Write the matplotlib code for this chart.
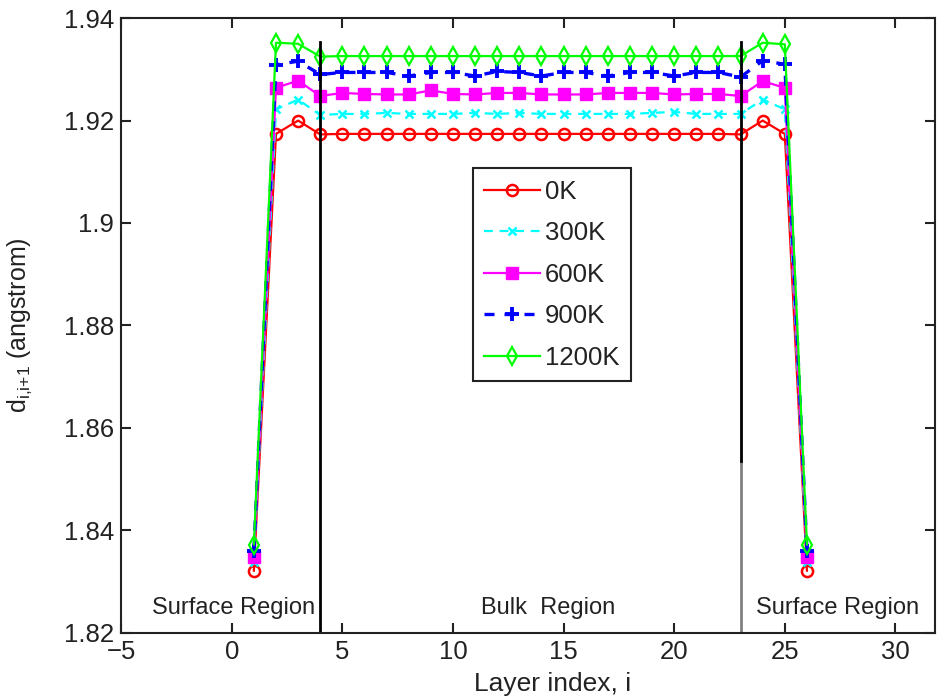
import matplotlib
matplotlib.use("Agg")
import matplotlib.pyplot as plt

plt.rcParams['font.family'] = ['Liberation Sans', 'DejaVu Sans']
plt.rcParams['mathtext.fontset'] = 'custom'
plt.rcParams['mathtext.rm'] = 'Liberation Sans'
plt.rcParams['mathtext.it'] = 'Liberation Sans'

layers = list(range(1, 27))

d_0K = [1.8321, 1.9174, 1.9200, 1.9173, 1.9174, 1.9174, 1.9174, 1.9174, 1.9174, 1.9174,
        1.9174, 1.9174, 1.9174, 1.9174, 1.9174, 1.9174, 1.9174, 1.9174, 1.9174, 1.9174,
        1.9174, 1.9174, 1.9173, 1.9200, 1.9174, 1.8321]
d_300K = [1.8338, 1.9222, 1.9241, 1.9211, 1.9213, 1.9213, 1.9215, 1.9213, 1.9213, 1.9213,
          1.9215, 1.9213, 1.9215, 1.9213, 1.9213, 1.9213, 1.9213, 1.9213, 1.9215, 1.9217,
          1.9213, 1.9213, 1.9213, 1.9241, 1.9222, 1.8338]
d_600K = [1.8348, 1.9264, 1.9278, 1.9248, 1.9254, 1.9252, 1.9251, 1.9251, 1.9259, 1.9252,
          1.9251, 1.9254, 1.9254, 1.9251, 1.9251, 1.9251, 1.9254, 1.9254, 1.9254, 1.9251,
          1.9252, 1.9252, 1.9248, 1.9277, 1.9264, 1.8348]
d_900K = [1.8360, 1.9309, 1.9316, 1.9290, 1.9294, 1.9294, 1.9294, 1.9287, 1.9294, 1.9294,
          1.9287, 1.9296, 1.9294, 1.9287, 1.9294, 1.9294, 1.9287, 1.9294, 1.9294, 1.9287,
          1.9294, 1.9294, 1.9285, 1.9317, 1.9310, 1.8360]
d_1200K = [1.8372, 1.9352, 1.9350, 1.9325, 1.9326, 1.9326, 1.9326, 1.9326, 1.9326, 1.9326,
           1.9326, 1.9326, 1.9326, 1.9326, 1.9326, 1.9326, 1.9326, 1.9326, 1.9326, 1.9326,
           1.9326, 1.9326, 1.9326, 1.9352, 1.9349, 1.8372]

series_labels = ['0K', '300K', '600K', '900K', '1200K']
boundaries = [4, 23]
region_labels = ['Surface Region', 'Bulk  Region', 'Surface Region']
region_x = [0.1, 14.3, 27.4]

RED, CYAN, MAG, BLUE, GREEN = '#ff0000', '#00ffff', '#ff00ff', '#0000ff', '#00ff00'

fig = plt.figure(figsize=(9.39, 6.99), dpi=100)
ax = fig.add_axes([0.129, 0.095, 0.867, 0.879])

lw = 1.6
ax.plot(layers, d_0K, color=RED, linestyle='-', marker='o', markersize=8,
        markerfacecolor='none', markeredgewidth=1.8, linewidth=lw, label=series_labels[0])
ax.plot(layers, d_300K, color=CYAN, linestyle='--', marker='x', markersize=6,
        markeredgewidth=1.8, linewidth=lw, dashes=(4, 3), label=series_labels[1])
ax.plot(layers, d_600K, color=MAG, linestyle='-', marker='s', markersize=8,
        markerfacecolor=MAG, markeredgewidth=1.0, linewidth=lw, label=series_labels[2])
ax.plot(layers, d_900K, color=BLUE, linestyle='--', marker='+', markersize=10,
        markeredgewidth=2.8, linewidth=2.4, dashes=(3, 3), label=series_labels[3])
ax.plot(layers, d_1200K, color=GREEN, linestyle='-', marker='d', markersize=9,
        markerfacecolor='none', markeredgewidth=1.6, linewidth=lw, label=series_labels[4])

ax.plot([boundaries[0], boundaries[0]], [1.82, 1.9353], color='black', linewidth=2)
ax.plot([boundaries[1], boundaries[1]], [1.82, 1.8535], color='#808080', linewidth=2)
ax.plot([boundaries[1], boundaries[1]], [1.8535, 1.9353], color='black', linewidth=2)

for xr, t in zip(region_x, region_labels):
    ax.text(xr, 1.8249, t, ha='center', va='center', fontsize=17, color='#222222')

ax.set_xlim(-5, 31.8)
ax.set_ylim(1.82, 1.94)
ax.set_xticks([-5, 0, 5, 10, 15, 20, 25, 30])
ax.set_xticklabels(['\u22125', '0', '5', '10', '15', '20', '25', '30'])
ax.set_yticks([1.82, 1.84, 1.86, 1.88, 1.90, 1.92, 1.94])
ax.set_yticklabels(['1.82', '1.84', '1.86', '1.88', '1.9', '1.92', '1.94'])
ax.tick_params(axis='both', direction='in', labelsize=18.5, length=7, width=1.5,
               top=True, right=True, pad=5, colors='#222222')
for s in ax.spines.values():
    s.set_linewidth(1.5)
    s.set_color('#222222')

ax.set_xlabel('Layer index, i', fontsize=19, color='#222222')
ax.xaxis.set_label_coords(0.53, -0.064)
ax.set_ylabel(r'd$_{\mathrm{i{,}i{+}1}}$ (angstrom)', fontsize=18, color='#222222')
ax.yaxis.set_label_coords(-0.107, 0.5)

leg = ax.legend(loc='upper left', bbox_to_anchor=(0.432, 0.756), fontsize=18.5,
                frameon=True, fancybox=False, edgecolor='#222222', framealpha=1,
                handlelength=2.15, borderpad=0.45, labelspacing=0.68, handletextpad=0.2,
                borderaxespad=0)
leg.get_frame().set_linewidth(1.5)
for t in leg.get_texts():
    t.set_color('#222222')

fig.savefig('out.png', dpi=100)
